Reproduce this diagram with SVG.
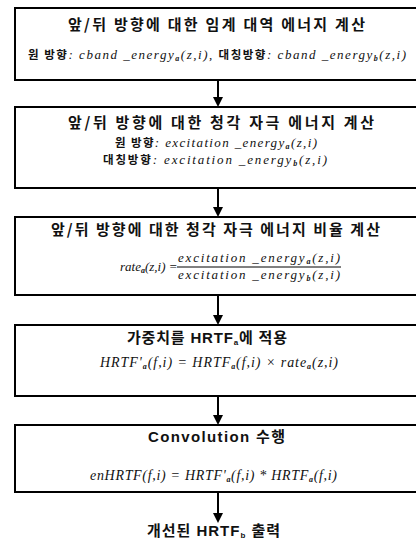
<svg xmlns="http://www.w3.org/2000/svg" width="416" height="553" viewBox="0 0 416 553">
<style>
.box{fill:#fff;stroke:#000;stroke-width:2}
.t{font-family:"Noto Sans CJK KR","Liberation Sans",sans-serif;font-size:15px;font-weight:bold;fill:#111}
.e{font-family:"Liberation Sans","Noto Sans CJK KR",sans-serif;font-size:15px;font-weight:bold;fill:#111}
.k{font-family:"Noto Sans CJK KR",sans-serif;font-size:11.5px;font-weight:bold;fill:#111}
.m{font-family:"Liberation Serif","Noto Sans CJK KR",serif;font-size:13px;font-style:italic;fill:#111}
.m14{font-size:14px}
.s{font-size:8px;font-weight:bold}
.ln{stroke:#000;stroke-width:2;fill:none}
.ah{fill:#000}
</style>
<rect width="416" height="553" fill="#fff"/>
<g id="connectors">
<line class="ln" x1="218" y1="80" x2="218" y2="98"/><polygon class="ah" points="213,97 223,97 218,107"/>
<line class="ln" x1="218" y1="188" x2="218" y2="208"/><polygon class="ah" points="213,207 223,207 218,217"/>
<line class="ln" x1="218" y1="295" x2="218" y2="316"/><polygon class="ah" points="213,315 223,315 218,325"/>
<line class="ln" x1="218" y1="396" x2="218" y2="416"/><polygon class="ah" points="213,415 223,415 218,425"/>
<line class="ln" x1="218" y1="492" x2="218" y2="514"/><polygon class="ah" points="213,513 223,513 218,523"/>
</g>
<g id="n1">
<rect class="box" x="15" y="8" width="410" height="72"/>
<text class="t" x="68" y="30" textLength="297" lengthAdjust="spacing">앞/뒤 방향에 대한 임계 대역 에너지 계산</text>
<text x="28" y="59" textLength="378" lengthAdjust="spacing"><tspan class="k">원 방향</tspan><tspan class="m">: cband _energy<tspan class="s" dy="2">a</tspan><tspan dy="-2">(z,i),  </tspan></tspan><tspan class="k"> 대칭방향</tspan><tspan class="m">: cband _energy<tspan class="s" dy="2">b</tspan><tspan dy="-2">(z,i)</tspan></tspan></text>
</g>
<g id="n2">
<rect class="box" x="15" y="107" width="410" height="81"/>
<text class="t" x="68" y="128" textLength="306" lengthAdjust="spacing">앞/뒤 방향에 대한 청각 자극 에너지 계산</text>
<text x="115" y="147" textLength="202" lengthAdjust="spacing"><tspan class="k">원 방향</tspan><tspan class="m">: excitation _energy<tspan class="s" dy="2">a</tspan><tspan dy="-2">(z,i)</tspan></tspan></text>
<text x="103" y="164" textLength="224" lengthAdjust="spacing"><tspan class="k">대칭방향</tspan><tspan class="m">: excitation _energy<tspan class="s" dy="2">b</tspan><tspan dy="-2">(z,i)</tspan></tspan></text>
</g>
<g id="n3">
<rect class="box" x="15" y="217" width="410" height="78"/>
<text class="t" x="51" y="235" textLength="329" lengthAdjust="spacing">앞/뒤 방향에 대한 청각 자극 에너지 비율 계산</text>
<text class="m" x="120" y="271">rate<tspan class="s" dy="2">a</tspan><tspan dy="-2">(z,i) =</tspan></text>
<text class="m" x="178" y="262" textLength="162" lengthAdjust="spacing">excitation _energy<tspan class="s" dy="2">a</tspan><tspan dy="-2">(z,i)</tspan></text>
<line x1="177" y1="267" x2="341" y2="267" stroke="#000" stroke-width="1"/>
<text class="m" x="178" y="279" textLength="162" lengthAdjust="spacing">excitation _energy<tspan class="s" dy="2">b</tspan><tspan dy="-2">(z,i)</tspan></text>
</g>
<g id="n4">
<rect class="box" x="15" y="325" width="410" height="71"/>
<text class="e" x="127" y="343" textLength="160" lengthAdjust="spacing">가중치를 HRTF<tspan class="s" dy="2">a</tspan><tspan dy="-2">에 적용</tspan></text>
<text class="m m14" x="100" y="367" textLength="238" lengthAdjust="spacing">HRTF'<tspan class="s" dy="2">a</tspan><tspan dy="-2">(f,i) = HRTF</tspan><tspan class="s" dy="2">a</tspan><tspan dy="-2">(f,i) × rate</tspan><tspan class="s" dy="2">a</tspan><tspan dy="-2">(z,i)</tspan></text>
</g>
<g id="n5">
<rect class="box" x="15" y="425" width="410" height="67"/>
<text class="e" x="148" y="442" textLength="137" lengthAdjust="spacing">Convolution 수행</text>
<text class="m m14" x="90" y="480" textLength="247" lengthAdjust="spacing">enHRTF(f,i) = HRTF'<tspan class="s" dy="2">a</tspan><tspan dy="-2">(f,i) * HRTF</tspan><tspan class="s" dy="2">a</tspan><tspan dy="-2">(f,i)</tspan></text>
</g>
<g id="n6">
<text class="e" x="147" y="536" textLength="133" lengthAdjust="spacing">개선된  HRTF<tspan class="s" dy="2">b</tspan><tspan dy="-2"> 출력</tspan></text>
</g>
</svg>
